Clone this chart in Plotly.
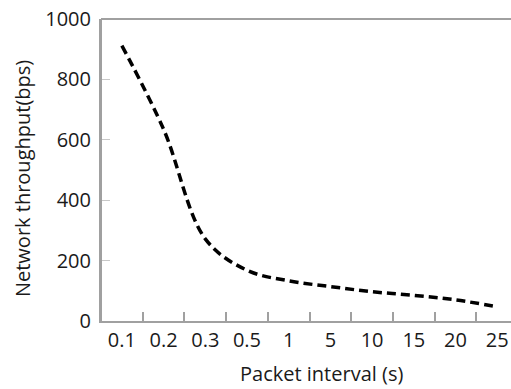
import plotly.graph_objects as go

categories = ["0.1", "0.2", "0.3", "0.5", "1", "5", "10", "15", "20", "25"]
throughput = [912, 635, 272, 168, 133, 114, 97, 85, 70, 47]
y_ticks = [0, 200, 400, 600, 800, 1000]

FONT = "Open Sans"
AXIS_COLOR = "#a0a0a0"
TEXT_COLOR = "#1a1a1a"

fig = go.Figure()
fig.add_trace(go.Scatter(
    x=categories, y=throughput, mode="lines",
    line=dict(color="black", width=3.5, dash="9px,5px", shape="spline", smoothing=1.0),
    showlegend=False,
))

# plot-area frame lines (top border and left axis)
fig.add_shape(type="line", xref="paper", yref="paper", x0=0, x1=1, y0=1, y1=1,
              line=dict(color=AXIS_COLOR, width=2), layer="above")
fig.add_shape(type="line", xref="paper", yref="paper", x0=0, x1=0, y0=0, y1=1,
              line=dict(color=AXIS_COLOR, width=2), layer="above")

fig.add_annotation(text="Packet interval (s)", xref="paper", yref="paper",
                   x=0.537, y=0, yshift=-52, xanchor="center", yanchor="middle",
                   showarrow=False, font=dict(size=20, color=TEXT_COLOR))
fig.add_annotation(text="Network throughput(bps)", xref="paper", yref="paper",
                   x=0, xshift=-79, y=0.47, xanchor="center", yanchor="middle",
                   textangle=-90, showarrow=False, font=dict(size=20, color=TEXT_COLOR))

fig.update_layout(
    width=511, height=389,
    margin=dict(l=101, r=0, t=19, b=68),
    paper_bgcolor="white", plot_bgcolor="white",
    font=dict(family=FONT, size=20, color=TEXT_COLOR),
    xaxis=dict(
        type="category", range=[-0.5, 9.33], automargin=False,
        showgrid=False, showline=True, linecolor=AXIS_COLOR, linewidth=2,
        ticks="inside", tickson="boundaries", ticklen=9, tickcolor=AXIS_COLOR, tickwidth=1.5,
        tickfont=dict(size=20),
        zeroline=False,
    ),
    yaxis=dict(
        range=[0, 1000], tickvals=y_ticks, automargin=False,
        showgrid=False, showline=True, linecolor=AXIS_COLOR, linewidth=2,
        ticks="inside", ticklen=9, tickcolor="#c8c8c8", tickwidth=1,
        tickfont=dict(size=20), ticklabelstandoff=4,
        zeroline=False,
    ),
)

# remove the browser's default 8px body margin so the figure fills the window
fig.write_html("out.html", config={"displayModeBar": False},
               post_script="document.body.style.margin='0px';document.body.style.overflow='hidden';")
